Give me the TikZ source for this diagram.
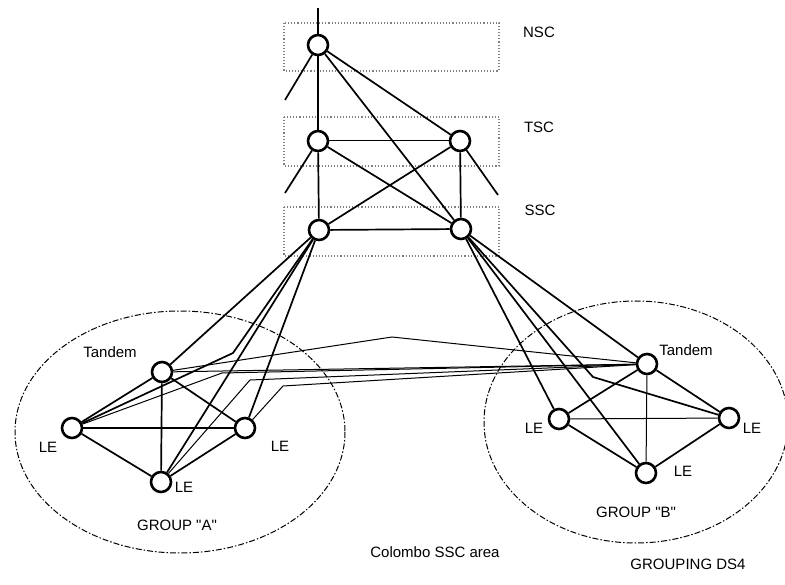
\documentclass[tikz,border=0pt]{standalone}
\usepackage{fontspec}
\setmainfont{Liberation Sans}
\begin{document}
\begin{tikzpicture}[x=1pt,y=-1pt,
  nd/.style={circle,draw,line width=2.6pt,minimum size=20pt,inner sep=0pt,fill=white},
  ln/.style={line width=1.7pt},
  fine/.style={line width=1pt},
  lvlbox/.style={draw=gray,line width=1.1pt,dotted},
  grp/.style={draw,line width=1pt,dash pattern=on 6pt off 2pt on 1.5pt off 2pt},
  lab/.style={font=\fontsize{15}{17}\selectfont,inner sep=0pt}]
\useasboundingbox (0,0) rectangle (785,585);
% level boxes
\draw[lvlbox] (284,23) rectangle (499,71);
\draw[lvlbox] (284,117) rectangle (499,166);
\draw[lvlbox] (284,207) rectangle (499,256);
% group ellipses
\draw[grp] (180,432) ellipse [x radius=165, y radius=121];
\draw[grp] (636,422) ellipse [x radius=152, y radius=121];
% nodes
\node[nd] (nsc) at (318,45) {};
\node[nd] (tl) at (318,141) {};
\node[nd] (tr) at (460,141) {};
\node[nd] (sl) at (319,230) {};
\node[nd] (sr) at (461,229) {};
\node[nd] (ta) at (162,372) {};
\node[nd] (la) at (72,428) {};
\node[nd] (ra) at (245,428) {};
\node[nd] (ba) at (161,482) {};
\node[nd] (tb) at (647,364) {};
\node[nd] (lb) at (559,419) {};
\node[nd] (rb) at (729,418) {};
\node[nd] (bb) at (646,473) {};
% free ends and bends
\coordinate (top) at (318,8);
\coordinate (s1) at (285,100);
\coordinate (s2) at (285,193);
\coordinate (s3) at (498,195);
\coordinate (p1) at (233,353);
\coordinate (p2) at (222,373);
\coordinate (p3) at (250,380);
\coordinate (p4) at (283,386);
\coordinate (pk) at (392,337);
\coordinate (p5) at (593,377);
% hierarchy
\draw[ln] (nsc) -- (top);
\draw[ln] (nsc) -- (s1);
\draw[ln] (tl) -- (s2);
\draw[ln] (tr) -- (s3);
\draw[ln] (nsc) -- (tl);
\draw[ln] (nsc) -- (tr);
\draw[ln] (nsc) -- (sr);
\draw[fine] (tl) -- (tr);
\draw[ln] (tl) -- (sl);
\draw[ln] (tl) -- (sr);
\draw[ln] (tr) -- (sl);
\draw[ln] (tr) -- (sr);
\draw[ln] (sl) -- (sr);
% SSC left to group A
\draw[ln] (sl) -- (ta);
\draw[ln] (sl) -- (p1) -- (la);
\draw[ln] (sl) -- (ba);
\draw[ln] (sl) -- (ra);
% SSC right to group B
\draw[ln] (sr) -- (tb);
\draw[ln] (sr) -- (lb);
\draw[ln] (sr) -- (bb);
\draw[ln] (sr) -- (p5) -- (rb);
% group A
\draw[ln] (ta) -- (la);
\draw[ln] (ta) -- (ba);
\draw[ln] (ta) -- (ra);
\draw[fine] (la) -- (ra);
\draw[ln] (la) -- (ba);
\draw[ln] (ba) -- (ra);
% group B
\draw[ln] (tb) -- (lb);
\draw[fine] (tb) -- (bb);
\draw[ln] (tb) -- (rb);
\draw[fine] (lb) -- (rb);
\draw[ln] (lb) -- (bb);
\draw[ln] (bb) -- (rb);
% between groups
\draw[fine] (ta) -- (pk) -- (tb);
\draw[fine] (ta) -- (tb);
\draw[fine] (la) -- (p2) -- (tb);
\draw[fine] (ba) -- (p3) -- (tb);
\draw[fine] (ra) -- (p4) -- (tb);
% labels
\node[lab] (lnsc) at (539,32) {NSC};
\node[lab] (ltsc) at (539,127) {TSC};
\node[lab] (lssc) at (540,210) {SSC};
\node[lab] (lta) at (110,352) {Tandem};
\node[lab] (lla) at (48,447) {LE};
\node[lab] (lra) at (280,446) {LE};
\node[lab] (lba) at (184,487) {LE};
\node[lab] (lga) at (177,525) {GROUP \textquotedbl A\textquotedbl};
\node[lab] (ltb) at (686,350) {Tandem};
\node[lab] (llb) at (534,428) {LE};
\node[lab] (lrb) at (752,428) {LE};
\node[lab] (lbb) at (683,471) {LE};
\node[lab] (lgb) at (636,512) {GROUP \textquotedbl B\textquotedbl};
\node[lab] (lcol) at (435,552) {Colombo SSC area};
\node[lab] (lds) at (688,564) {GROUPING DS4};
\end{tikzpicture}
\end{document}
